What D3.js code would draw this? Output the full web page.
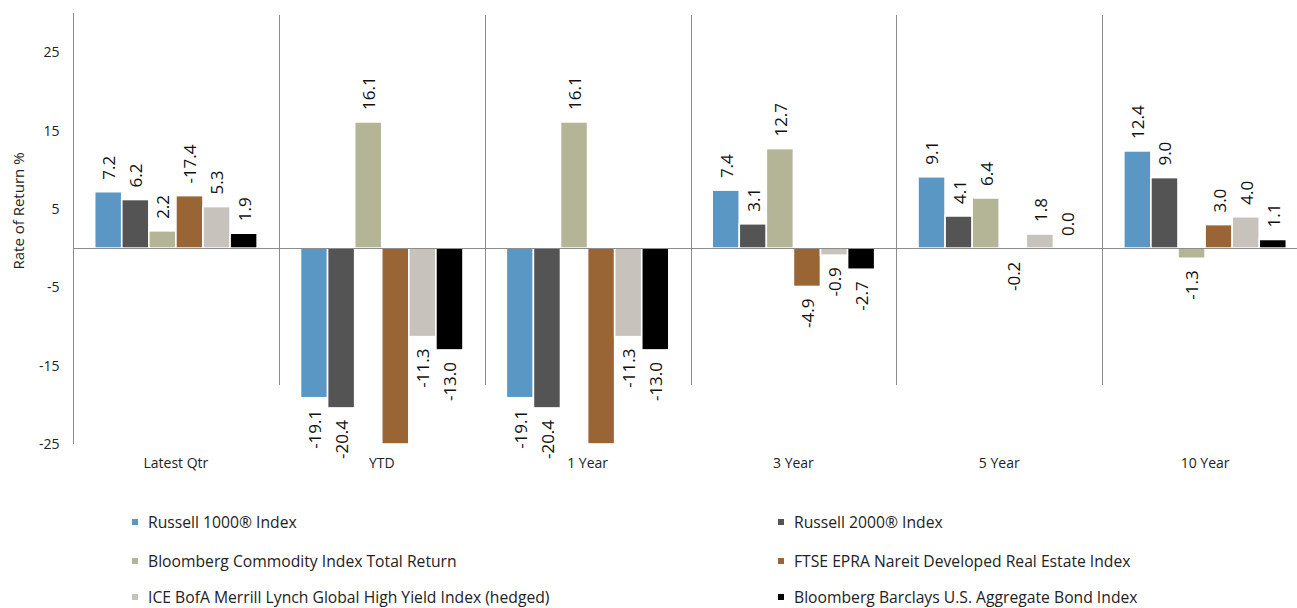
<!DOCTYPE html>
<html>
<head>
<meta charset="utf-8">
<script src="https://cdn.jsdelivr.net/npm/d3@7"></script>
<style>
  html, body { margin: 0; padding: 0; background: #fff; }
  svg { display: block; font-family: "Open Sans", "Noto Sans", sans-serif; }
</style>
</head>
<body>
<svg id="chart" width="1297" height="608"></svg>
<script>
// ---- data ----
const categories = ["Latest Qtr", "YTD", "1 Year", "3 Year", "5 Year", "10 Year"];
const seriesNames = [
  "Russell 1000® Index",
  "Russell 2000® Index",
  "Bloomberg Commodity Index Total Return",
  "FTSE EPRA Nareit Developed Real Estate Index",
  "ICE BofA Merrill Lynch Global High Yield Index (hedged)",
  "Bloomberg Barclays U.S. Aggregate Bond Index"
];
const russell1000 = [7.2, -19.1, -19.1, 7.4, 9.1, 12.4];
const russell2000 = [6.2, -20.4, -20.4, 3.1, 4.1, 9.0];
const commodity   = [2.2, 16.1, 16.1, 12.7, 6.4, -1.3];
const ftseEpra    = [6.7, -26.0, -26.0, -4.9, -0.2, 3.0];
const highYield   = [5.3, -11.3, -11.3, -0.9, 1.8, 4.0];
const aggBond     = [1.9, -13.0, -13.0, -2.7, 0.0, 1.1];
// data labels as printed in the chart (FTSE first label differs from its bar)
const ftseEpraLabels = ["-17.4", null, null, "-4.9", "-0.2", "3.0"];
const yTicks = [25, 15, 5, -5, -15, -25];
const colors = ["#5B97C5", "#545454", "#B4B596", "#9A6535", "#C7C2BB", "#000000"];

const seriesValues = [russell1000, russell2000, commodity, ftseEpra, highYield, aggBond];
const seriesLabels = [
  russell1000.map(v => v.toFixed(1)),
  russell2000.map(v => v.toFixed(1)),
  commodity.map(v => v.toFixed(1)),
  ftseEpraLabels,
  highYield.map(v => v.toFixed(1)),
  aggBond.map(v => v.toFixed(1))
];

// ---- layout ----
const svg = d3.select("#chart");
const plotLeft = 73, plotRight = 1308, plotTop = 13, plotBottom = 444;

const y = d3.scaleLinear().domain([-25, 30]).range([plotBottom, plotTop]).clamp(true);
const x0 = d3.scaleBand().domain(categories).range([plotLeft, plotRight]).paddingInner(0).paddingOuter(0);
const x1 = d3.scaleBand().domain(d3.range(seriesNames.length)).range([0, x0.bandwidth()]).paddingInner(0).paddingOuter(0.8);

const grey = "#8c8c8c";

// category separators
svg.append("g").selectAll("line")
  .data(categories.slice(1))
  .join("line")
  .attr("x1", d => Math.round(x0(d)) + 0.5)
  .attr("x2", d => Math.round(x0(d)) + 0.5)
  .attr("y1", plotTop + 2)
  .attr("y2", 385)
  .attr("stroke", grey).attr("stroke-width", 1);

// bars
const barData = [];
seriesValues.forEach((vals, si) => {
  vals.forEach((v, ci) => {
    barData.push({ si, ci, v, label: seriesLabels[si][ci] });
  });
});

const g = svg.append("g");
g.selectAll("rect")
  .data(barData)
  .join("rect")
  .attr("x", d => x0(categories[d.ci]) + x1(d.si))
  .attr("width", x1.bandwidth())
  .attr("y", d => Math.min(y(d.v), y(0)))
  .attr("height", d => Math.abs(y(d.v) - y(0)))
  .attr("fill", d => colors[d.si])
  .attr("stroke", "#ffffff")
  .attr("stroke-width", 1.6);

// zero line
svg.append("line")
  .attr("x1", plotLeft).attr("x2", 1297)
  .attr("y1", Math.round(y(0)) + 0.5).attr("y2", Math.round(y(0)) + 0.5)
  .attr("stroke", grey).attr("stroke-width", 1);

// y axis
const yAxis = d3.axisLeft(y).tickValues(yTicks).tickSize(0).tickPadding(14).tickFormat(d => String(d));
const ya = svg.append("g").attr("transform", `translate(${plotLeft + 0.5},0)`).call(yAxis);
ya.select(".domain").attr("stroke", grey).attr("d", `M0,${plotTop}V${plotBottom}`);
ya.selectAll("text").attr("font-size", 14).attr("fill", "#222").attr("font-family", "Open Sans");

// y axis title
svg.append("text")
  .attr("transform", `translate(19,${211}) rotate(-90)`)
  .attr("text-anchor", "middle")
  .attr("dy", "0.35em")
  .attr("font-size", 15)
  .attr("fill", "#222")
  .text("Rate of Return %");

// category labels
svg.append("g").selectAll("text")
  .data(categories)
  .join("text")
  .attr("x", d => x0(d) + x0.bandwidth() / 2)
  .attr("y", 463)
  .attr("dy", "0.35em")
  .attr("text-anchor", "middle")
  .attr("font-size", 14)
  .attr("fill", "#222")
  .text(d => d);

// data labels
const gap = 12;
svg.append("g").selectAll("text")
  .data(barData.filter(d => d.label !== null && d.v >= -25 && d.v <= 30))
  .join("text")
  .attr("transform", d => {
    const cx = x0(categories[d.ci]) + x1(d.si) + x1.bandwidth() / 2 + 1;
    const yy = d.v >= 0 ? y(d.v) - gap : y(d.v) + gap;
    return `translate(${cx},${yy}) rotate(-90)`;
  })
  .attr("text-anchor", d => d.v >= 0 ? "start" : "end")
  .attr("dy", "0.35em")
  .attr("font-size", 17)
  .attr("fill", "#111")
  .text(d => d.label);

// legend
const legendCols = [132, 778];
const legendRows = [522, 561, 597];
const lg = svg.append("g").selectAll("g")
  .data(seriesNames)
  .join("g")
  .attr("transform", (d, i) => `translate(${legendCols[i % 2]},${legendRows[Math.floor(i / 2)]})`);
lg.append("rect").attr("x", 0).attr("y", -3).attr("width", 6).attr("height", 6)
  .attr("fill", (d, i) => colors[i]);
lg.append("text").attr("x", 16).attr("dy", "0.35em")
  .attr("font-size", 15.7).attr("fill", "#222")
  .text(d => d);
</script>
</body>
</html>
